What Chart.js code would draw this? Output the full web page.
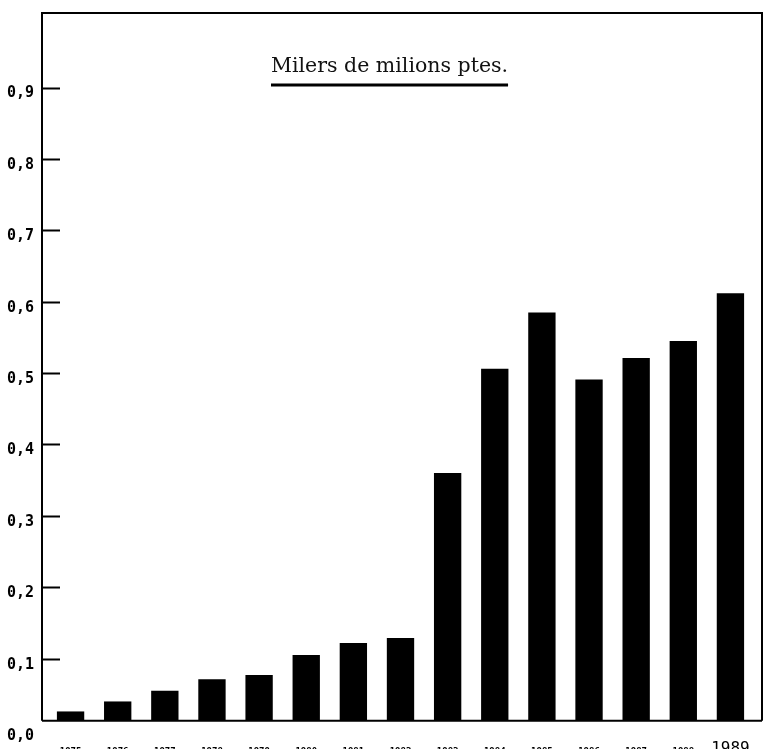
<!DOCTYPE html>
<html>
<head>
<meta charset="utf-8">
<script src="https://cdn.jsdelivr.net/npm/chart.js@4"></script>
<style>
html,body{margin:0;padding:0;background:#fff;overflow:hidden}
#wrap{width:763px;height:749px;position:relative}
</style>
</head>
<body>
<div id="wrap"><canvas id="c" width="763" height="749"></canvas></div>
<script>
const years = ['1975','1976','1977','1978','1979','1980','1981','1982','1983','1984','1985','1986','1987','1988','1989'];
const values = [0.026,0.040,0.055,0.071,0.077,0.105,0.122,0.129,0.360,0.506,0.585,0.491,0.521,0.545,0.612];
const yTickValues = [0,0.1,0.2,0.3,0.4,0.5,0.6,0.7,0.8,0.9];
const yTickLabels = ['0,0','0,1','0,2','0,3','0,4','0,5','0,6','0,7','0,8','0,9'];
const titleText = 'Milers de milions ptes.';
const axisBase = 0.013;

const framePlugin = {
  id: 'frame',
  afterDraw(chart) {
    const ctx = chart.ctx;
    const a = chart.chartArea;
    const ys = chart.scales.y;
    const fl = a.left - 5, fr = a.right + 8;
    const fb = ys.getPixelForValue(axisBase);
    ctx.save();
    ctx.strokeStyle = '#000';
    ctx.lineWidth = 2;
    ctx.beginPath();
    ctx.moveTo(fl, fb);
    ctx.lineTo(fl, a.top);
    ctx.lineTo(fr, a.top);
    ctx.lineTo(fr, fb);
    ctx.moveTo(fl, fb);
    ctx.lineTo(fr, fb);
    ctx.stroke();
    ys.ticks.forEach((t, i) => {
      if (i === 0) return;
      const y = Math.round(ys.getPixelForValue(t.value)) + 0.5;
      ctx.beginPath();
      ctx.moveTo(fl, y);
      ctx.lineTo(fl + 18, y);
      ctx.stroke();
    });
    ctx.fillStyle = '#111';
    ctx.font = '20.5px "DejaVu Serif"';
    ctx.textAlign = 'left';
    ctx.textBaseline = 'alphabetic';
    const tx = fl + 229;
    const ty = 72;
    ctx.fillText(titleText, tx, ty);
    const w = ctx.measureText(titleText).width;
    ctx.lineWidth = 3;
    ctx.beginPath();
    ctx.moveTo(tx, 85);
    ctx.lineTo(tx + w, 85);
    ctx.stroke();
    ctx.restore();
  }
};

new Chart(document.getElementById('c'), {
  type: 'bar',
  data: {
    labels: years,
    datasets: [{
      data: values,
      base: axisBase,
      backgroundColor: '#000',
      borderWidth: 0,
      categoryPercentage: 1,
      barPercentage: 0.58
    }]
  },
  options: {
    responsive: false,
    animation: false,
    devicePixelRatio: 1,
    layout: { padding: { top: 13, right: 9, left: 0, bottom: 0 } },
    plugins: { legend: { display: false }, tooltip: { enabled: false }, title: { display: false } },
    scales: {
      x: {
        type: 'category',
        offset: true,
        grid: { display: false, drawTicks: false },
        border: { display: false },
        afterFit(scale) {
          scale.height = 19;
          scale.paddingLeft = 0; scale.paddingRight = 0;
          scale.paddingTop = 0; scale.paddingBottom = 0;
        },
        ticks: {
          autoSkip: false,
          maxRotation: 0,
          minRotation: 0,
          padding: 9,
          color: '#000',
          font: (ctx) => ctx.index === years.length - 1
            ? { family: '"DejaVu Sans Mono"', size: 16, weight: 'normal', lineHeight: 1.2 }
            : { family: '"DejaVu Sans Mono"', size: 9, weight: 'bold', lineHeight: 2.78 }
        }
      },
      y: {
        min: 0,
        max: 1.0045,
        grid: { display: false, drawTicks: false },
        border: { display: false },
        afterFit(scale) {
          scale.width = 47;
          scale.paddingTop = 0; scale.paddingBottom = 0;
          scale.paddingLeft = 0; scale.paddingRight = 0;
        },
        afterBuildTicks(scale) {
          scale.ticks = yTickValues.map(v => ({ value: v }));
        },
        ticks: {
          padding: 13,
          color: '#000',
          font: { family: '"DejaVu Sans Mono"', size: 15, weight: 'bold', lineHeight: 0.8 },
          callback: (value, index) => ['', yTickLabels[index]]
        }
      }
    }
  },
  plugins: [framePlugin]
});
</script>
</body>
</html>
